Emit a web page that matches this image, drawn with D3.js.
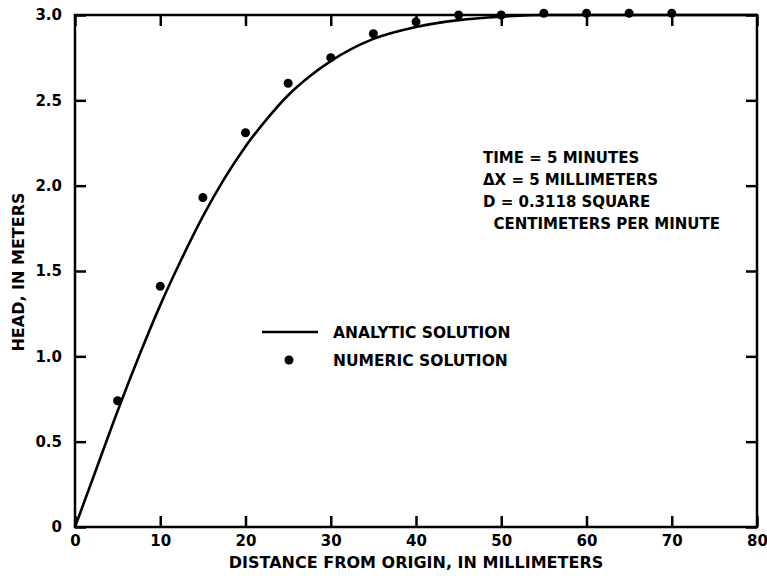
<!DOCTYPE html>
<meta charset="utf-8">
<html>
<body style="margin:0; background-color: white;">
<script src="https://d3js.org/d3.v7.min.js"></script>
<div id="chart"></div>
<script>
// values
var analyticX = [0, 2.5, 5, 7.5, 10, 12.5, 15, 17.5, 20, 22.5, 25, 27.5, 30, 35, 40, 45, 50, 55, 60, 70, 80];
var analyticY = [0, 0.34, 0.68, 1.0, 1.3, 1.57, 1.82, 2.04, 2.23, 2.39, 2.53, 2.64, 2.73, 2.86, 2.93, 2.97, 2.99, 3.0, 3.0, 3.0, 3.0];
var numericX = [5, 10, 15, 20, 25, 30, 35, 40, 45, 50, 55, 60, 65, 70];
var numericY = [0.74, 1.41, 1.93, 2.31, 2.6, 2.75, 2.89, 2.96, 3.0, 3.0, 3.01, 3.01, 3.01, 3.01];
var xTicks = [0, 10, 20, 30, 40, 50, 60, 70, 80];
var yTicks = [0, 0.5, 1.0, 1.5, 2.0, 2.5, 3.0];
var yTickLabels = ["0", "0.5", "1.0", "1.5", "2.0", "2.5", "3.0"];
var notes = ["TIME = 5 MINUTES", "\u0394X = 5 MILLIMETERS", "D = 0.3118 SQUARE", "  CENTIMETERS PER MINUTE"];

var W = 767, H = 576;
var margin = {top: 15, right: 10, bottom: 49, left: 75};
var width = W - margin.left - margin.right,
    height = H - margin.top - margin.bottom;
var font = "'DejaVu Sans', Arial, sans-serif";

var svg = d3.select("#chart").append("svg")
    .attr("width", W).attr("height", H)
    .style("font-family", font).style("font-weight", "bold");
var g = svg.append("g").attr("transform", "translate(" + margin.left + "," + margin.top + ")");

var x = d3.scaleLinear().domain([0, 80]).range([0, width]);
var y = d3.scaleLinear().domain([0, 3]).range([height, 0]);

// frame
g.append("rect").attr("x", 0).attr("y", 0).attr("width", width).attr("height", height)
  .attr("fill", "none").attr("stroke", "black").attr("stroke-width", 2.5);

// axes with inward ticks
var tl = 11;
g.append("g").attr("transform", "translate(0," + height + ")")
  .call(d3.axisBottom(x).tickValues(xTicks).tickSize(-tl).tickPadding(8).tickFormat(d3.format("d")));
g.append("g")
  .call(d3.axisTop(x).tickValues(xTicks).tickSize(-tl).tickFormat(""));
g.append("g")
  .call(d3.axisLeft(y).tickValues(yTicks).tickSize(-tl).tickPadding(13)
    .tickFormat(function(d, i) { return yTickLabels[i]; }));
g.append("g").attr("transform", "translate(" + width + ",0)")
  .call(d3.axisRight(y).tickValues(yTicks).tickSize(-tl).tickFormat(""));

g.selectAll(".domain").remove();
g.selectAll(".tick line").attr("stroke", "black").attr("stroke-width", 2.5);
g.selectAll(".tick text").attr("fill", "black").style("font-size", "15px")
  .style("font-family", font).style("font-weight", "bold");

// analytic curve
var line = d3.line().x(function(d) { return x(d[0]); }).y(function(d) { return y(d[1]); }).curve(d3.curveMonotoneX);
g.append("path").datum(d3.zip(analyticX, analyticY))
  .attr("d", line).attr("fill", "none").attr("stroke", "black").attr("stroke-width", 2.6);

// numeric points
g.selectAll("circle.pt").data(d3.zip(numericX, numericY)).enter().append("circle")
  .attr("class", "pt")
  .attr("cx", function(d) { return x(d[0]); })
  .attr("cy", function(d) { return y(d[1]); })
  .attr("r", 4.5).attr("fill", "black");

// legend
svg.append("line").attr("x1", 262).attr("x2", 318).attr("y1", 332).attr("y2", 332)
  .attr("stroke", "black").attr("stroke-width", 2.6);
svg.append("circle").attr("cx", 289).attr("cy", 360).attr("r", 4.5).attr("fill", "black");
svg.append("text").attr("x", 333).attr("y", 338).text("ANALYTIC SOLUTION").style("font-size", "15.5px");
svg.append("text").attr("x", 333).attr("y", 366).text("NUMERIC SOLUTION").style("font-size", "15.5px");

// notes
svg.selectAll("text.note").data(notes).enter().append("text")
  .attr("class", "note")
  .attr("x", 483)
  .attr("y", function(d, i) { return 163 + i * 22; })
  .attr("xml:space", "preserve")
  .style("white-space", "pre")
  .style("font-size", "15px")
  .text(function(d) { return d; });

// axis titles
svg.append("text").attr("x", 416).attr("y", 568).attr("text-anchor", "middle")
  .style("font-size", "16px").text("DISTANCE FROM ORIGIN, IN MILLIMETERS");
svg.append("text").attr("transform", "translate(24,272) rotate(-90)").attr("text-anchor", "middle")
  .style("font-size", "16px").text("HEAD, IN METERS");
</script>
</body>
</html>
